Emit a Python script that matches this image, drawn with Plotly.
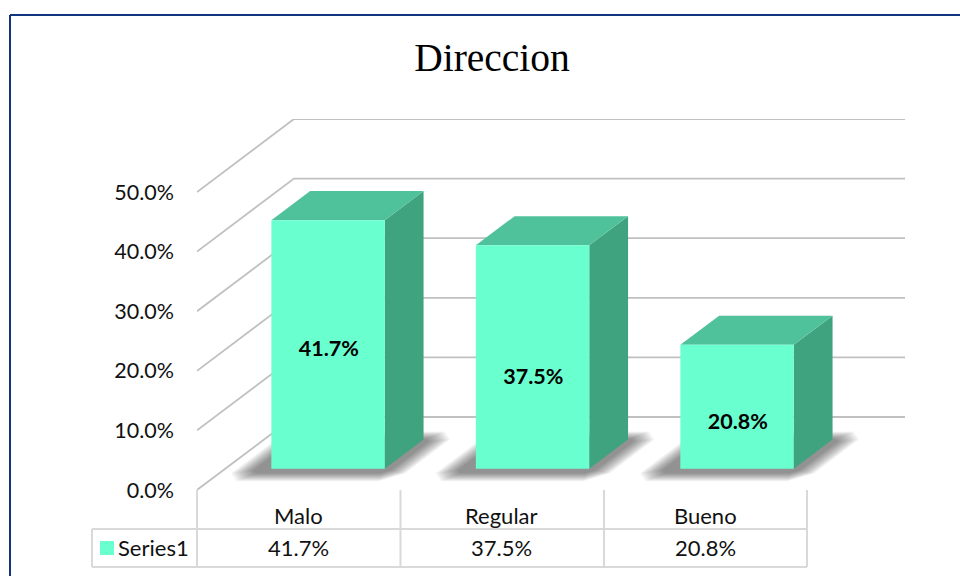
import plotly.graph_objects as go

# Data
categories = ['Malo', 'Regular', 'Bueno']
values = [41.7, 37.5, 20.8]
series_name = 'Series1'
y_ticks = [0, 10, 20, 30, 40, 50]
y_ticktext = ['0.0%', '10.0%', '20.0%', '30.0%', '40.0%', '50.0%']
chart_title = 'Direccion'

# Colors
FRONT = '#6AFFCF'
TOP = '#50C29B'
SIDE = '#40A380'
GRID = '#C0C0C0'
TABLE = '#D9D9D9'
FRAME = '#12357F'
TEXT = '#111111'

# Page position of the plot area
LEFT, RIGHT, TOP_PX, BOTTOM_PX = 197, 905, 119, 490
X_MAX = 3.483
Y_MAX = 62.25

# 3D look: how far the back wall sits from the front, in axis units
DEPTH_X = 0.477
DEPTH_Y = 12.25
BAR_PITCH = 1.006
BAR_X0, BAR_X1 = 0.2275, 0.7855
BAR_D0, BAR_D1 = 0.29, 0.69
LABEL_FRAC = [0.474, 0.402, 0.363]


def px_x(px):
    return (px - LEFT) / (RIGHT - LEFT)


def px_y(py):
    return (BOTTOM_PX - py) / (BOTTOM_PX - TOP_PX)


def at_depth(x, v, d):
    # axis position of a point lying at depth d (0 front, 1 back)
    return x + d * DEPTH_X, v + d * DEPTH_Y


def polygon(points, color):
    xs = [p[0] for p in points] + [points[0][0]]
    ys = [p[1] for p in points] + [points[0][1]]
    return go.Scatter(x=xs, y=ys, mode='lines', fill='toself', fillcolor=color,
                      line=dict(width=0), hoverinfo='skip', showlegend=False)


def line(points, color=GRID, width=1.8):
    return go.Scatter(x=[p[0] for p in points], y=[p[1] for p in points], mode='lines',
                      line=dict(color=color, width=width), hoverinfo='skip', showlegend=False)


fig = go.Figure()

# walls
for t in y_ticks:
    fig.add_trace(line([at_depth(0, t, 0), at_depth(0, t, 1), at_depth(X_MAX - DEPTH_X, t, 1)]))

# shadows on the floor, stacked to fake the blur
LAYERS = 12
for i, v in enumerate(values):
    for k in range(LAYERS):
        grow = 1 - k / (LAYERS - 1)
        ex = 0.08 + 0.09 * grow
        d_front = BAR_D0 - 0.06 - 0.11 * grow
        d_back = BAR_D1 + 0.01 + 0.1 * grow
        cx = 0.03 + 0.05 * grow
        cd = 0.04 + 0.07 * grow
        x0, x1 = i * BAR_PITCH + BAR_X0 - ex, i * BAR_PITCH + BAR_X1 + ex - 0.04
        fig.add_trace(polygon([at_depth(x0 + cx, 0, d_front), at_depth(x1 - cx, 0, d_front),
                               at_depth(x1, 0, d_front + cd), at_depth(x1, 0, d_back - cd),
                               at_depth(x1 - cx, 0, d_back), at_depth(x0 + cx, 0, d_back),
                               at_depth(x0, 0, d_back - cd), at_depth(x0, 0, d_front + cd)],
                              'rgba(0,0,0,0.044)'))

# bars
for i, v in enumerate(values):
    x0, x1 = i * BAR_PITCH + BAR_X0, i * BAR_PITCH + BAR_X1
    fig.add_trace(polygon([at_depth(x1, 0, BAR_D0), at_depth(x1, 0, BAR_D1),
                           at_depth(x1, v, BAR_D1), at_depth(x1, v, BAR_D0)], SIDE))
    fig.add_trace(polygon([at_depth(x0, v, BAR_D0), at_depth(x1, v, BAR_D0),
                           at_depth(x1, v, BAR_D1), at_depth(x0, v, BAR_D1)], TOP))
    fig.add_trace(polygon([at_depth(x0, 0, BAR_D0), at_depth(x1, 0, BAR_D0),
                           at_depth(x1, v, BAR_D0), at_depth(x0, v, BAR_D0)], FRONT))

# data labels
label_x = [at_depth(i * BAR_PITCH + (BAR_X0 + BAR_X1) / 2, 0, BAR_D0)[0] + 0.004 for i in range(len(values))]
label_y = [at_depth(0, v * f, BAR_D0)[1] for v, f in zip(values, LABEL_FRAC)]
fig.add_trace(go.Scatter(x=label_x, y=label_y, mode='text',
                         text=[f'{v:.1f}%' for v in values],
                         textfont=dict(family='Lato', size=21.5, color='#000000'),
                         texttemplate='<b>%{text}</b>',
                         hoverinfo='skip', showlegend=False))

# data table under the chart
shapes = []


def table_line(x0, y0, x1, y1):
    shapes.append(dict(type='line', xref='paper', yref='paper', x0=px_x(x0), y0=px_y(y0),
                       x1=px_x(x1), y1=px_y(y1), line=dict(color=TABLE, width=2)))


table_line(92, 529, 807, 529)
table_line(92, 567, 807, 567)
table_line(92, 529, 92, 567)
for col in [197, 400.5, 604, 807]:
    table_line(col, 490, col, 567)

# legend key
shapes.append(dict(type='rect', xref='paper', yref='paper', x0=px_x(100), x1=px_x(114),
                   y0=px_y(541), y1=px_y(555), fillcolor=FRONT, line=dict(width=0)))

# chart frame, runs off the page on the right and bottom
shapes.append(dict(type='line', xref='paper', yref='paper', x0=px_x(10), x1=px_x(960),
                   y0=px_y(15), y1=px_y(15), line=dict(color=FRAME, width=2)))
shapes.append(dict(type='line', xref='paper', yref='paper', x0=px_x(10), x1=px_x(10),
                   y0=px_y(15), y1=px_y(576), line=dict(color=FRAME, width=2)))

annotations = [dict(x=px_x(118), y=px_y(547), xref='paper', yref='paper', text=series_name,
                    showarrow=False, xanchor='left', yanchor='middle', xshift=-2,
                    font=dict(family='Lato', size=22, color=TEXT))]
for i, (c, v) in enumerate(zip(categories, values)):
    annotations.append(dict(x=i + 0.5, y=px_y(515), xref='x', yref='paper', text=c,
                            showarrow=False, yanchor='middle',
                            font=dict(family='Lato', size=22, color=TEXT)))
    annotations.append(dict(x=i + 0.5, y=px_y(547), xref='x', yref='paper', text=f'{v:.1f}%',
                            showarrow=False, yanchor='middle',
                            font=dict(family='Lato', size=22, color=TEXT)))

fig.update_layout(
    width=960,
    height=576,
    margin=dict(l=LEFT, r=960 - RIGHT, t=TOP_PX, b=576 - BOTTOM_PX, pad=0),
    paper_bgcolor='#FFFFFF',
    plot_bgcolor='#FFFFFF',
    showlegend=False,
    title=dict(text=chart_title, x=492 / 960, xanchor='center',
               y=1 - 57 / 576, yanchor='middle',
               font=dict(family='Liberation Serif', size=39.5, color='#000000')),
    xaxis=dict(range=[0, X_MAX], visible=False, fixedrange=True),
    yaxis=dict(range=[0, Y_MAX], tickvals=y_ticks, ticktext=y_ticktext, showgrid=False,
               zeroline=False, showline=False, ticks='', ticklabelstandoff=22, fixedrange=True,
               tickfont=dict(family='Lato', size=21.5, color=TEXT)),
    shapes=shapes,
    annotations=annotations,
)

# the browser's default body margin would push the chart 8px in
fig.write_html("out.html", config=dict(displayModeBar=False),
               post_script="document.body.style.margin='0';")
